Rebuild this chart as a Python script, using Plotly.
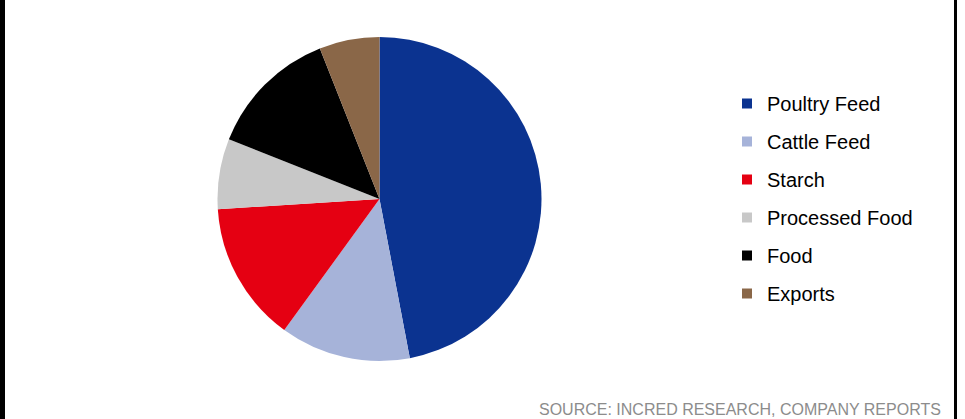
import plotly.graph_objects as go

categories = ["Poultry Feed", "Cattle Feed", "Starch", "Processed Food", "Food", "Exports"]
shares = [47, 13, 14, 7, 13, 6]
colors = ["#0b3390", "#a6b3d9", "#e50012", "#c8c8c8", "#000000", "#8a6748"]
source_text = "SOURCE: INCRED RESEARCH, COMPANY REPORTS"

W, H = 965, 419
cx, cy, r = 379.5, 199, 162

fig = go.Figure()
fig.add_trace(go.Pie(
    labels=categories, values=shares, sort=False, direction="clockwise", rotation=0,
    marker=dict(colors=colors, line=dict(width=0)),
    textinfo="none", hoverinfo="skip", showlegend=False,
    domain=dict(x=[(cx - r) / W, (cx + r) / W], y=[(H - cy - r) / H, (H - cy + r) / H]),
))
# legend entries
for i, (c, col) in enumerate(zip(categories, colors)):
    fig.add_trace(go.Scatter(
        x=[None], y=[None], mode="markers", name=c, legendgroup=c,
        marker=dict(symbol="square", size=10, color=col, line=dict(width=0)),
        showlegend=True,
    ))

fig.update_layout(
    width=W, height=H, margin=dict(l=0, r=0, t=0, b=0),
    paper_bgcolor="white", plot_bgcolor="white",
    font=dict(family="Liberation Sans, Arial, sans-serif", color="#000000"),
    xaxis=dict(visible=False), yaxis=dict(visible=False),
    legend=dict(
        x=727 / W, y=1 - 84 / H, xanchor="left", yanchor="top",
        font=dict(size=20, color="#000000"),
        tracegroupgap=9, itemsizing="trace", bgcolor="rgba(0,0,0,0)",
    ),
    annotations=[dict(
        text=source_text, xref="paper", yref="paper", x=943 / W, y=0,
        xanchor="right", yanchor="bottom", showarrow=False,
        font=dict(size=16, color="#8c8c8c"), yshift=-1,
    )],
    shapes=[
        dict(type="rect", xref="paper", yref="paper", x0=0, x1=5 / W, y0=0, y1=1,
             fillcolor="#000000", line=dict(width=0)),
        dict(type="rect", xref="paper", yref="paper", x0=954 / W, x1=957 / W, y0=0, y1=1,
             fillcolor="#000000", line=dict(width=0)),
    ],
)
fig.write_html(
    "out.html",
    config={"displayModeBar": False},
    post_script="document.body.style.margin='0';document.body.style.padding='0';document.body.style.overflow='hidden';",
)
